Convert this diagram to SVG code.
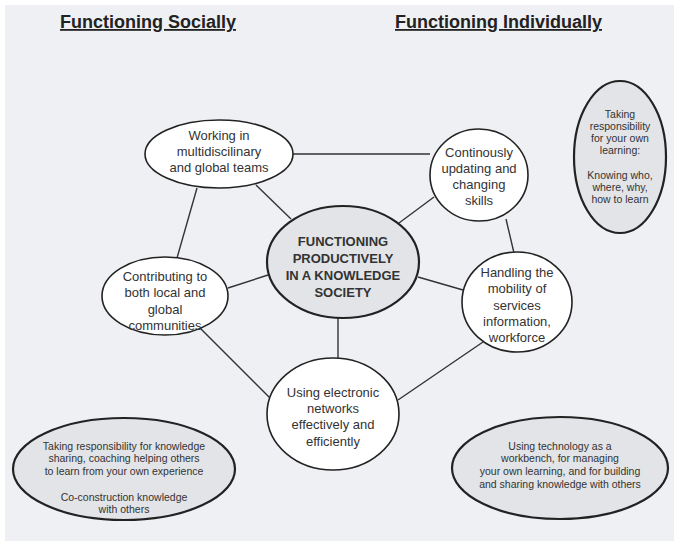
<svg xmlns="http://www.w3.org/2000/svg" width="674" height="541" viewBox="0 0 674 541">
<style>
.t{font-family:"Liberation Sans",Arial,sans-serif;fill:#333;text-anchor:middle}
.n{font-size:13px}
.s{font-size:10.5px}
.b{font-size:13px;font-weight:bold}
.h{font-family:"Liberation Sans",Arial,sans-serif;font-size:18px;font-weight:bold;fill:#222;text-decoration:underline}
.w{fill:#fff;stroke:#222;stroke-width:1.6}
.g{fill:#e2e4e7;stroke:#222;stroke-width:2.2}
.c{stroke:#333;stroke-width:1.4;fill:none}
</style>
<rect width="674" height="541" fill="#fff"/>
<rect x="5" y="5" width="669" height="536" fill="#eef0f3"/>
<text class="h" x="60" y="28">Functioning Socially</text>
<text class="h" x="395" y="28">Functioning Individually</text>
<g id="connectors">
<line class="c" x1="293" y1="154" x2="430" y2="154"/>
<line class="c" x1="197" y1="188" x2="177" y2="258"/>
<line class="c" x1="256" y1="185" x2="291" y2="219"/>
<line class="c" x1="434" y1="197" x2="399" y2="223"/>
<line class="c" x1="506" y1="219" x2="514" y2="253"/>
<line class="c" x1="418" y1="277" x2="463" y2="290"/>
<line class="c" x1="228" y1="288" x2="268" y2="275"/>
<line class="c" x1="200" y1="328" x2="270" y2="398"/>
<line class="c" x1="338" y1="318" x2="338" y2="358"/>
<line class="c" x1="398" y1="400" x2="483" y2="342"/>
</g>
<g id="working">
<ellipse class="w" cx="219" cy="154" rx="74" ry="34"/>
<text class="t n" x="219" y="140">Working in</text>
<text class="t n" x="219" y="156">multidiscilinary</text>
<text class="t n" x="219" y="172">and global teams</text>
</g>
<g id="updating">
<ellipse class="w" cx="479" cy="175" rx="49" ry="46"/>
<text class="t n" x="479" y="157">Continously</text>
<text class="t n" x="479" y="173">updating and</text>
<text class="t n" x="479" y="189">changing</text>
<text class="t n" x="479" y="205">skills</text>
</g>
<g id="responsibility">
<ellipse class="g" cx="620" cy="157" rx="46" ry="76"/>
<text class="t s" x="620" y="118">Taking</text>
<text class="t s" x="620" y="130">responsibility</text>
<text class="t s" x="620" y="142">for your own</text>
<text class="t s" x="620" y="154">learning:</text>
<text class="t s" x="620" y="179">Knowing who,</text>
<text class="t s" x="620" y="191">where, why,</text>
<text class="t s" x="620" y="203">how to learn</text>
</g>
<g id="contributing">
<ellipse class="w" cx="165" cy="296" rx="63" ry="39"/>
<text class="t n" x="165" y="281">Contributing to</text>
<text class="t n" x="165" y="297">both local and</text>
<text class="t n" x="165" y="314">global</text>
<text class="t n" x="165" y="330">communities</text>
</g>
<g id="center">
<ellipse class="g" cx="343" cy="262" rx="76" ry="56"/>
<text class="t b" x="343" y="246">FUNCTIONING</text>
<text class="t b" x="343" y="263">PRODUCTIVELY</text>
<text class="t b" x="343" y="280">IN A KNOWLEDGE</text>
<text class="t b" x="343" y="297">SOCIETY</text>
</g>
<g id="handling">
<ellipse class="w" cx="517" cy="302" rx="55" ry="50"/>
<text class="t n" x="517" y="277">Handling the</text>
<text class="t n" x="517" y="293">mobility of</text>
<text class="t n" x="517" y="310">services</text>
<text class="t n" x="517" y="326">information,</text>
<text class="t n" x="517" y="342">workforce</text>
</g>
<g id="using">
<ellipse class="w" cx="333" cy="414" rx="66" ry="56"/>
<text class="t n" x="333" y="397">Using electronic</text>
<text class="t n" x="333" y="413">networks</text>
<text class="t n" x="333" y="429">effectively and</text>
<text class="t n" x="333" y="446">efficiently</text>
</g>
<g id="sharing">
<ellipse class="g" cx="124" cy="469" rx="111" ry="51"/>
<text class="t s" x="124" y="450">Taking responsibility for knowledge</text>
<text class="t s" x="124" y="462">sharing, coaching helping others</text>
<text class="t s" x="124" y="475">to learn from your own experience</text>
<text class="t s" x="124" y="501">Co-construction knowledge</text>
<text class="t s" x="124" y="513">with others</text>
</g>
<g id="technology">
<ellipse class="g" cx="560" cy="468" rx="108" ry="51"/>
<text class="t s" x="560" y="450">Using technology as a</text>
<text class="t s" x="560" y="462">workbench, for managing</text>
<text class="t s" x="560" y="475">your own learning, and for building</text>
<text class="t s" x="560" y="488">and sharing knowledge with others</text>
</g>
</svg>
